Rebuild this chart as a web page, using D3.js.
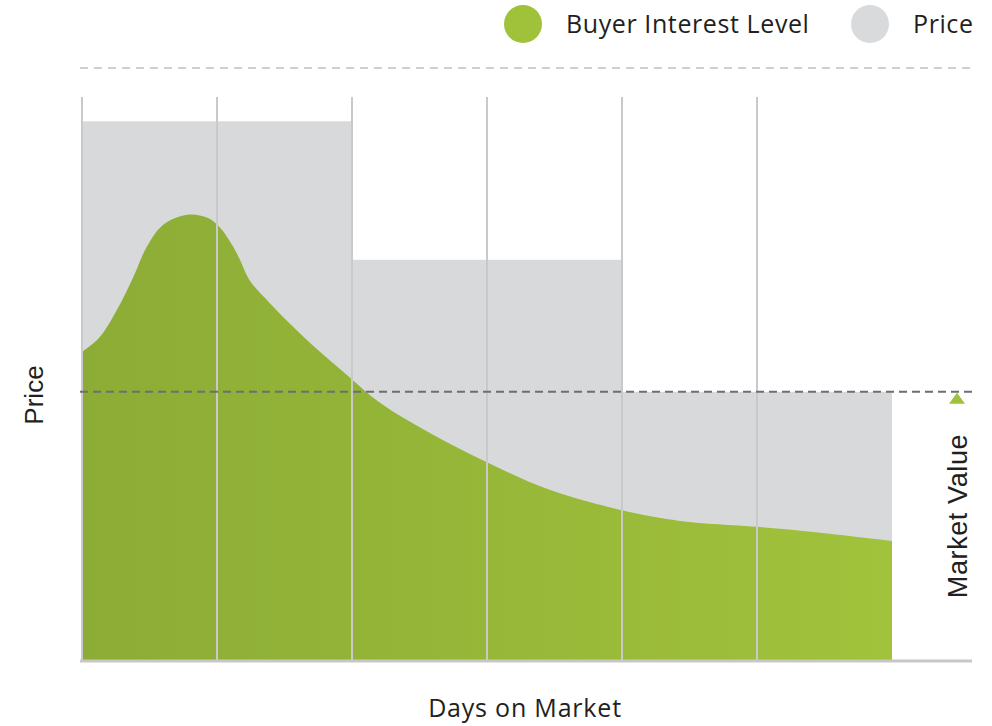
<!DOCTYPE html>
<html>
<head>
<meta charset="utf-8">
<script src="https://cdn.jsdelivr.net/npm/d3@7"></script>
<style>
  body { margin: 0; background: #fff; }
  text { font-family: "Open Sans", "Noto Sans", sans-serif; fill: #231f20; }
</style>
</head>
<body>
<div id="chart"></div>
<script>
// --------------- data ---------------
const days = [0, 1, 2, 3, 4, 5, 6];
const priceFrom = [0, 2, 4];
const priceTo = [2, 4, 6];
const priceLevel = [91, 67.6, 45.3];
const marketValue = 45.3;

const interestDay = [0, 0.13, 0.26, 0.38, 0.48, 0.6, 0.78, 0.93, 1.02, 1.12, 1.17, 1.24, 1.39, 1.59, 1.79, 1.99, 2.21, 2.58, 3.0, 3.47, 4.0, 4.43, 5.0, 5.47, 6.0];
const interestVal = [52, 54.5, 59.2, 64.7, 69.8, 73.5, 75.2, 74.7, 73.1, 69.8, 67.6, 64.2, 60.3, 55.7, 51.5, 47.6, 43.4, 38.3, 33.4, 28.7, 25.3, 23.5, 22.5, 21.5, 20.1];

const legendNames = ["Buyer Interest Level", "Price"];
const legendColors = ["#a0c13a", "#d9dadc"];

// --------------- layout ---------------
const W = 992, H = 726;
const svg = d3.select("#chart").append("svg")
  .attr("width", W).attr("height", H);

const x = d3.scaleLinear().domain([0, 6]).range([82, 892]);
const y = d3.scaleLinear().domain([0, 100]).range([660, 68]);

const defs = svg.append("defs");
const grad = defs.append("linearGradient")
  .attr("id", "greenGrad")
  .attr("x1", "0%").attr("x2", "100%").attr("y1", "0%").attr("y2", "0%");
grad.append("stop").attr("offset", "0%").attr("stop-color", "#8cac36");
grad.append("stop").attr("offset", "100%").attr("stop-color", "#a1c23b");

// top dashed line
svg.append("line")
  .attr("x1", 80).attr("x2", 972)
  .attr("y1", y(100)).attr("y2", y(100))
  .attr("stroke", "#cfcfcf").attr("stroke-width", 2)
  .attr("stroke-dasharray", "8,6");

// price steps
svg.append("g").selectAll("rect")
  .data(priceLevel)
  .join("rect")
  .attr("x", (d, i) => x(priceFrom[i]))
  .attr("width", (d, i) => x(priceTo[i]) - x(priceFrom[i]))
  .attr("y", d => y(d))
  .attr("height", d => y(0) - y(d))
  .attr("fill", "#d8d9db");

// buyer interest area
const pts = interestDay.map((d, i) => [d, interestVal[i]]);
const area = d3.area()
  .x(d => x(d[0]))
  .y0(y(0))
  .y1(d => y(d[1]))
  .curve(d3.curveCatmullRom.alpha(0.5));

svg.append("path")
  .datum(pts)
  .attr("d", area)
  .attr("fill", "url(#greenGrad)");

// vertical grid lines
svg.append("g").selectAll("line")
  .data(days.slice(0, 6))
  .join("line")
  .attr("x1", d => x(d)).attr("x2", d => x(d))
  .attr("y1", 97).attr("y2", y(0))
  .attr("stroke", "#c9c9cb").attr("stroke-width", 2);

// market value dashed line
svg.append("line")
  .attr("x1", 80).attr("x2", 972)
  .attr("y1", y(marketValue)).attr("y2", y(marketValue))
  .attr("stroke", "#6d6e71").attr("stroke-width", 2)
  .attr("stroke-dasharray", "8,5");

// baseline
svg.append("line")
  .attr("x1", 80).attr("x2", 972)
  .attr("y1", y(0) + 1).attr("y2", y(0) + 1)
  .attr("stroke", "#c7c8c3").attr("stroke-width", 3);

// market value marker
const ty = y(marketValue) + 1;
svg.append("path")
  .attr("d", `M${957 - 8},${ty + 11} L${957 + 8},${ty + 11} L957,${ty} Z`)
  .attr("fill", "#a0c13a");

svg.append("text")
  .attr("transform", "translate(967,516) rotate(-90)")
  .attr("text-anchor", "middle")
  .style("font-family", "'Liberation Sans', Arial, sans-serif")
  .style("letter-spacing", "0.6px")
  .attr("font-size", 27)
  .text("Market Value");

// axis titles
svg.append("text")
  .attr("x", 525).attr("y", 717)
  .attr("text-anchor", "middle")
  .attr("font-size", 25)
  .style("letter-spacing", "0.8px")
  .text("Days on Market");

svg.append("text")
  .attr("transform", "translate(43,395) rotate(-90)")
  .attr("text-anchor", "middle")
  .style("font-family", "'Liberation Sans', Arial, sans-serif")
  .attr("font-size", 26)
  .text("Price");

// legend
const legendX = [523, 870];
const leg = svg.append("g").selectAll("g")
  .data(legendNames)
  .join("g")
  .attr("transform", (d, i) => `translate(${legendX[i]},24)`);
leg.append("circle").attr("r", 19).attr("fill", (d, i) => legendColors[i]);
leg.append("text")
  .attr("x", 43).attr("y", 9)
  .attr("font-size", 25)
  .style("letter-spacing", "0.6px")
  .text(d => d);
</script>
</body>
</html>
